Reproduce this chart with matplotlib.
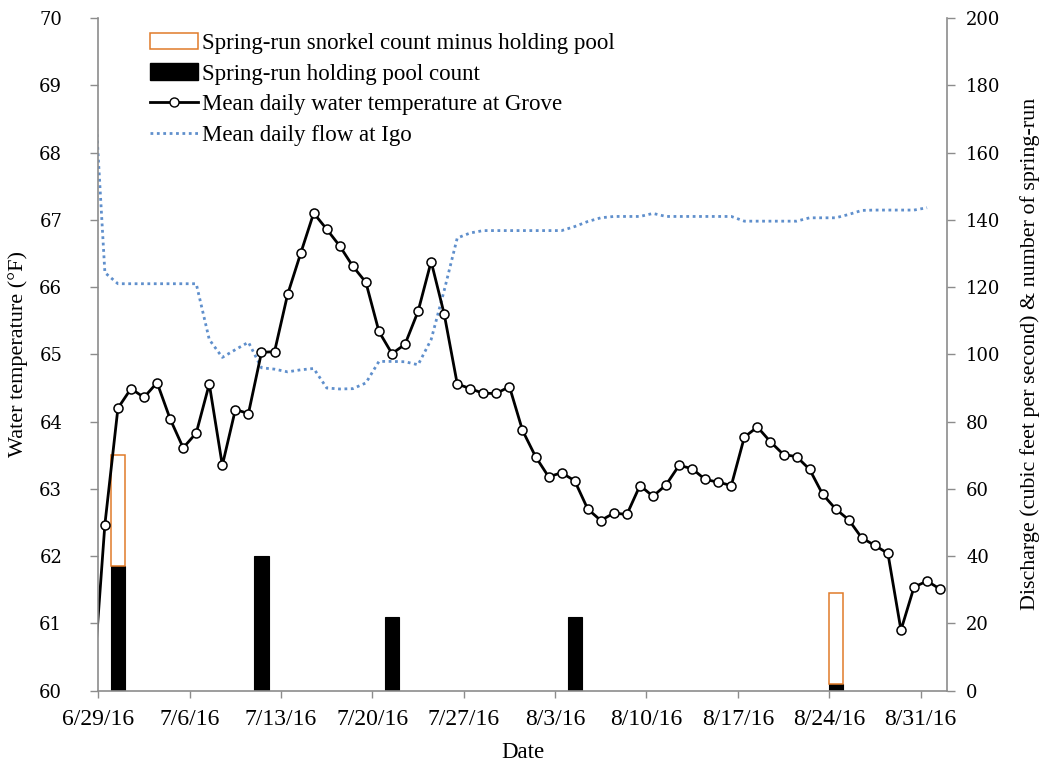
import matplotlib
matplotlib.use("Agg")
import matplotlib.pyplot as plt
import matplotlib.dates as mdates
from matplotlib.patches import Patch
from matplotlib.lines import Line2D
import pandas as pd
import numpy as np

# Mean daily water temperature at Grove (deg F), 6/28/16 - 9/1/16
temp_f = [59.8, 62.47, 64.20, 64.49, 64.36, 64.58, 64.04, 63.61, 63.83, 64.56,
          63.35, 64.18, 64.12, 65.03, 65.04, 65.89, 66.50, 67.10, 66.86, 66.61,
          66.31, 66.07, 65.34, 65.01, 65.15, 65.64, 66.38, 65.60, 64.56, 64.49,
          64.42, 64.42, 64.52, 63.87, 63.48, 63.18, 63.24, 63.12, 62.70, 62.53,
          62.64, 62.62, 63.05, 62.89, 63.06, 63.35, 63.30, 63.14, 63.10, 63.05,
          63.77, 63.92, 63.70, 63.51, 63.48, 63.29, 62.92, 62.70, 62.54, 62.27,
          62.16, 62.04, 60.90, 61.54, 61.63, 61.51]
temp_start = "2016-06-28"

# Mean daily flow at Igo (cfs), 6/28/16 - 8/31/16
flow_cfs = [192.0, 124.3, 121.0, 121.0, 121.0, 121.0, 121.0, 121.0, 121.0, 104.4,
            99.1, 101.4, 103.6, 96.0, 95.6, 94.8, 95.4, 95.8, 90.0, 89.7,
            89.8, 91.5, 97.9, 97.9, 97.8, 96.9, 104.4, 119.0, 134.6, 136.1,
            136.8, 136.8, 136.8, 136.8, 136.8, 136.8, 136.8, 138.0, 139.5, 140.6,
            141.0, 141.0, 141.0, 141.9, 141.0, 141.0, 141.0, 141.0, 141.0, 141.0,
            139.6, 139.6, 139.6, 139.6, 139.6, 140.6, 140.6, 140.6, 141.6, 142.8,
            142.9, 142.9, 142.9, 142.9, 143.6]
flow_start = "2016-06-28"

# Snorkel survey days and counts
survey_dates = ["2016-06-30", "2016-07-11", "2016-07-21", "2016-08-04", "2016-08-24"]
holding_pool = [37, 40, 22, 22, 2]
snorkel_minus_holding = [33, 0, 0, 0, 27]

tick_dates = ["2016-06-29", "2016-07-06", "2016-07-13", "2016-07-20", "2016-07-27",
              "2016-08-03", "2016-08-10", "2016-08-17", "2016-08-24", "2016-08-31"]

serif = "Liberation Serif"
tick_font = "DejaVu Serif"
axis_grey = "#8c8c8c"
flow_blue = "#5f8fcc"
orange = "#e07b29"

half_day = pd.Timedelta(hours=12)
t_dates = pd.date_range(temp_start, periods=len(temp_f), freq="D") + half_day
f_dates = pd.date_range(flow_start, periods=len(flow_cfs), freq="D") + half_day
s_dates = pd.to_datetime(survey_dates) + half_day

hold = np.array(holding_pool, dtype=float)
extra = np.array(snorkel_minus_holding, dtype=float)
has_extra = extra > 0

fig = plt.figure(figsize=(10.53, 7.67), dpi=100)
ax = fig.add_axes([0.0934, 0.0995, 0.8056, 0.877])
ax2 = ax.twinx()

# Counts and flow on the right-hand axis
bar_w = 1.1
ax2.bar(s_dates, hold, width=bar_w, color="black", edgecolor="black",
        linewidth=0.8, zorder=2)
ax2.bar(s_dates[has_extra], extra[has_extra], width=bar_w, bottom=hold[has_extra],
        facecolor="none", edgecolor=orange, linewidth=1.1, zorder=2)
ax2.plot(f_dates, flow_cfs, linestyle=(0, (1, 1.3)), color=flow_blue, linewidth=2.0,
         zorder=3)

# Temperature on the left-hand axis, drawn above the right-hand layer
ax.set_zorder(ax2.get_zorder() + 1)
ax.patch.set_visible(False)
ax.plot(t_dates, temp_f, color="black", linewidth=2.0, marker="o", markersize=6.5,
        markerfacecolor="white", markeredgecolor="black", markeredgewidth=1.1)

xmin = pd.Timestamp("2016-06-29")
xmax = pd.Timestamp("2016-09-02")
ax.set_xlim(xmin, xmax)
ax2.set_xlim(xmin, xmax)
ax.set_ylim(60, 70)
ax2.set_ylim(0, 200)

ax.set_yticks(np.arange(60, 71, 1))
ax2.set_yticks(np.arange(0, 201, 20))
ax.set_xticks(pd.to_datetime(tick_dates))
ax.xaxis.set_major_formatter(mdates.DateFormatter("%-m/%-d/%y"))

for a in (ax, ax2):
    a.spines["top"].set_visible(False)
    for s in ("left", "right", "bottom"):
        a.spines[s].set_color(axis_grey)
        a.spines[s].set_linewidth(1.2)
ax.spines["right"].set_visible(False)
ax2.spines["left"].set_visible(False)
ax2.spines["bottom"].set_visible(False)

ax.tick_params(axis="y", direction="out", length=6, width=1, color=axis_grey, pad=20)
ax2.tick_params(axis="y", direction="out", length=6, width=1, color=axis_grey, pad=8)
ax.tick_params(axis="x", direction="out", length=5, width=1, color=axis_grey, pad=8)
for lbl in ax.get_yticklabels() + ax2.get_yticklabels():
    lbl.set_fontfamily(tick_font)
    lbl.set_fontsize(13)
for lbl in ax.get_xticklabels():
    lbl.set_fontfamily(serif)
    lbl.set_fontsize(17)

ax.set_ylabel("Water temperature (\u00b0F)", fontfamily=serif, fontsize=16, labelpad=8)
ax2.set_ylabel("Discharge (cubic feet per second) & number of spring-run",
               fontfamily=serif, fontsize=15.8, labelpad=14)
ax.set_xlabel("Date", fontfamily=serif, fontsize=16.5, labelpad=9)

handles = [
    Patch(facecolor="white", edgecolor=orange, linewidth=1.1),
    Patch(facecolor="black", edgecolor="black"),
    Line2D([], [], color="black", linewidth=2.0, marker="o", markersize=6.5,
           markerfacecolor="white", markeredgecolor="black"),
    Line2D([], [], linestyle=(0, (1, 1.3)), color=flow_blue, linewidth=2.0),
]
labels = ["Spring-run snorkel count minus holding pool",
          "Spring-run holding pool count",
          "Mean daily water temperature at Grove",
          "Mean daily flow at Igo"]
ax.legend(handles, labels, loc="upper left", bbox_to_anchor=(0.061, 0.978),
          frameon=False, prop={"family": serif, "size": 16.5},
          handlelength=2.1, handletextpad=0.15, labelspacing=0.42,
          borderaxespad=0, borderpad=0)

fig.savefig("out.png", dpi=100)
